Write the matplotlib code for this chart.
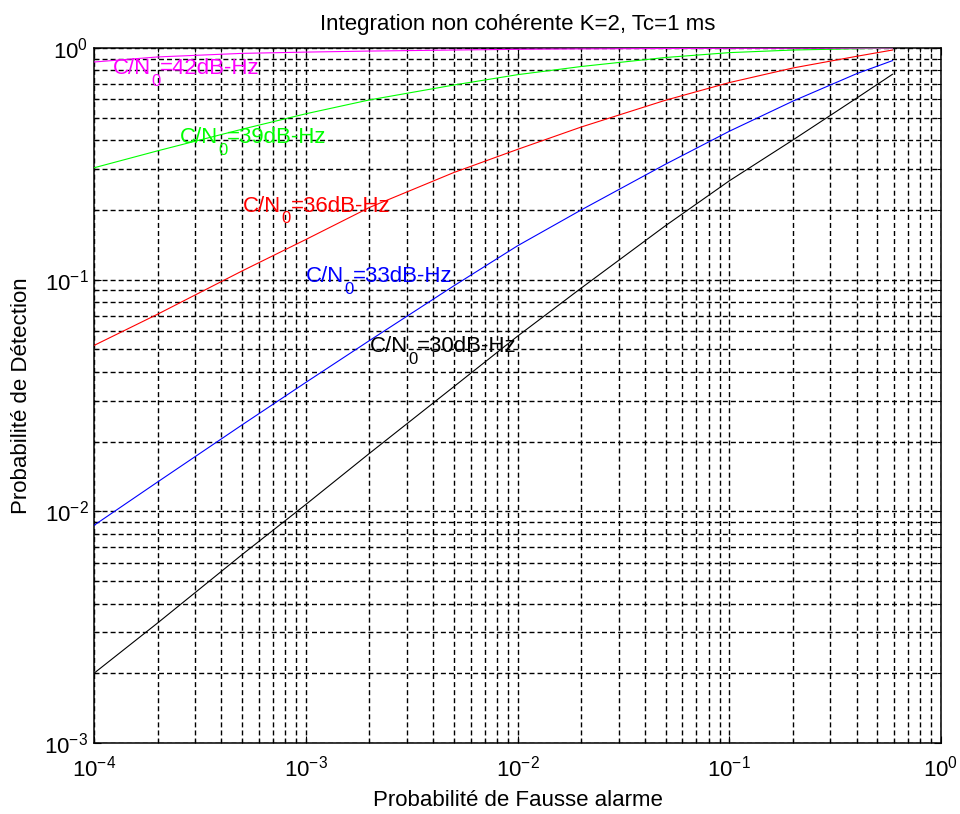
import matplotlib
matplotlib.use("Agg")
import matplotlib.pyplot as plt
from matplotlib.ticker import LogLocator, FixedFormatter, FixedLocator, NullFormatter

plt.rcParams['font.family'] = ['Liberation Sans', 'DejaVu Sans']
plt.rcParams['mathtext.fontset'] = 'custom'
plt.rcParams['mathtext.rm'] = 'Liberation Sans'
plt.rcParams['mathtext.it'] = 'Liberation Sans'
plt.rcParams['mathtext.default'] = 'regular'
plt.rcParams['lines.scale_dashes'] = False

# ---- data ----
pfa = [1e-4, 2e-4, 5e-4, 1e-3, 2e-3, 5e-3, 1e-2, 2e-2, 5e-2, 0.1, 0.2, 0.4, 0.59]
pd_30 = [0.0020, 0.0033, 0.0065, 0.0107, 0.0178, 0.0345, 0.057, 0.092, 0.171, 0.267, 0.401, 0.608, 0.77]
pd_33 = [0.0087, 0.0134, 0.0236, 0.036, 0.0546, 0.094, 0.140, 0.200, 0.315, 0.437, 0.59, 0.775, 0.882]
pd_36 = [0.052, 0.071, 0.109, 0.149, 0.205, 0.29, 0.365, 0.456, 0.595, 0.709, 0.82, 0.921, 0.98]
pd_39 = [0.304, 0.36, 0.446, 0.52, 0.597, 0.692, 0.767, 0.832, 0.91, 0.955, 0.98, 0.993, 0.998]
pd_42 = [0.87, 0.915, 0.948, 0.96, 0.97, 0.98, 0.987, 0.991, 0.995, 0.997, 0.998, 0.999, 0.9995]

cn0_values = ['30', '33', '36', '39', '42']
xtick_vals = [1e-4, 1e-3, 1e-2, 1e-1, 1]
xtick_labels = ['$10^{-4}$', '$10^{-3}$', '$10^{-2}$', '$10^{-1}$', '$10^{0}$']
ytick_vals = [1e-3, 1e-2, 1e-1, 1]
ytick_labels = ['$10^{-3}$', '$10^{-2}$', '$10^{-1}$', '$10^{0}$']

title = 'Integration non cohérente K=2, Tc=1 ms'
xlabel = 'Probabilité de Fausse alarme'
ylabel = 'Probabilité de Détection'

# ---- figure ----
fig = plt.figure(figsize=(9.6, 8.14), dpi=100)
W, H = 960, 814
ax = fig.add_axes([94 / W, 1 - 743 / H, (941 - 94) / W, (743 - 48) / H])

series = [pd_30, pd_33, pd_36, pd_39, pd_42]
colors = ['#000000', '#0000ff', '#ff0000', '#00ff00', '#ff00ff']
for ys, c in zip(series, colors):
    ax.plot(pfa, ys, color=c, linewidth=0.8, zorder=3)

ax.set_xscale('log')
ax.set_yscale('log')
ax.set_xlim(1e-4, 1)
ax.set_ylim(1e-3, 1)

ax.xaxis.set_major_locator(FixedLocator(xtick_vals))
ax.xaxis.set_major_formatter(FixedFormatter(xtick_labels))
ax.yaxis.set_major_locator(FixedLocator(ytick_vals))
ax.yaxis.set_major_formatter(FixedFormatter(ytick_labels))
ax.xaxis.set_minor_locator(LogLocator(base=10, subs=range(2, 10), numticks=20))
ax.yaxis.set_minor_locator(LogLocator(base=10, subs=range(2, 10), numticks=20))
ax.xaxis.set_minor_formatter(NullFormatter())
ax.yaxis.set_minor_formatter(NullFormatter())

ax.grid(True, which='both', color='k', linestyle=(0, (3.6, 2.2)), linewidth=1.0)
ax.set_axisbelow(True)
ax.tick_params(which='both', direction='in', top=True, right=True, width=0.8, colors='k')
ax.tick_params(which='major', length=5)
ax.tick_params(which='minor', length=3)
ax.tick_params(axis='x', which='major', labelsize=16, pad=9)
ax.tick_params(axis='y', which='major', labelsize=16, pad=4)
for s in ax.spines.values():
    s.set_linewidth(1.1)
    s.set_color('k')

ax.set_title(title, fontsize=16, pad=13)
ax.set_xlabel(xlabel, fontsize=16, labelpad=6)
ax.set_ylabel(ylabel, fontsize=16, labelpad=9)


def cn0_label(x, y, val, color):
    t1 = ax.text(x, y, 'C/N', color=color, fontsize=16, va='baseline', ha='left', zorder=4)
    ax.annotate('0', xy=(1, 0), xycoords=t1, xytext=(0, -7), textcoords='offset points',
                color=color, fontsize=12, va='bottom', ha='left', zorder=4)
    ax.annotate('=' + val + 'dB-Hz', xy=(1, 0), xycoords=t1, xytext=(6.5, 0),
                textcoords='offset points', color=color, fontsize=16,
                va='bottom', ha='left', zorder=4)


cn0_label(1.23e-4, 0.772, cn0_values[4], colors[4])
cn0_label(2.55e-4, 0.388, cn0_values[3], colors[3])
cn0_label(5.06e-4, 0.1965, cn0_values[2], colors[2])
cn0_label(1.0e-3, 0.0977, cn0_values[1], colors[1])
cn0_label(2.01e-3, 0.0488, cn0_values[0], colors[0])

fig.savefig('out.png', dpi=100, facecolor='white')
